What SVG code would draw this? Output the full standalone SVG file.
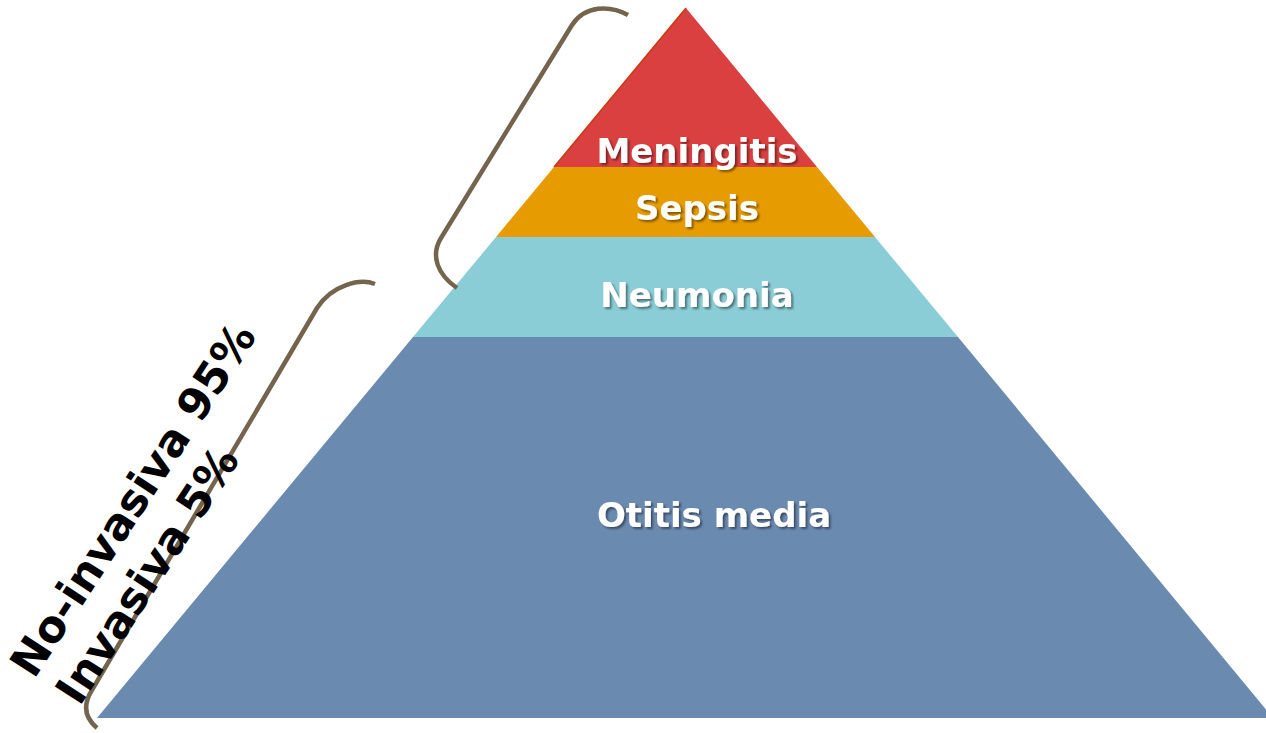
<svg xmlns="http://www.w3.org/2000/svg" width="1266" height="733" viewBox="0 0 1266 733">
<defs>
<filter id="sh" x="-10%" y="-30%" width="130%" height="170%">
<feDropShadow dx="2" dy="2" stdDeviation="1" flood-color="#000" flood-opacity="0.45"/>
</filter>
<style>
.lbl{font-family:"DejaVu Sans",Verdana,sans-serif;font-weight:bold;font-size:34px;fill:#fff;text-anchor:middle;filter:url(#sh)}
.side{font-family:"DejaVu Sans",Verdana,sans-serif;font-weight:bold;font-size:44px;fill:#000}
.br{fill:none;stroke:#74644E;stroke-width:4.5;stroke-linecap:butt}
</style>
</defs>
<rect width="1266" height="733" fill="#fff"/>
<g id="otitis">
<polygon points="413,337 958,337 1273,718 97,718" fill="#6B8AB0"/>
<text class="lbl" x="714" y="527">Otitis media</text>
</g>
<g id="neumonia">
<polygon points="496,237 875,237 958,337 413,337" fill="#8ACDD6"/>
<text class="lbl" x="697" y="307">Neumonia</text>
</g>
<g id="sepsis">
<polygon points="554,167 817,167 875,237 496,237" fill="#E69B00"/>
<text class="lbl" x="697" y="220">Sepsis</text>
</g>
<g id="meningitis">
<polygon points="686,8 817,167 554,167" fill="#DA4040"/>
<line x1="686" y1="8" x2="554" y2="167" stroke="#C83A10" stroke-width="1.5"/>
<text class="lbl" x="697" y="163">Meningitis</text>
</g>
<g id="brackets">
<path class="br" d="M628,15 C610,5 585,5 572,25 L441,238 C430,256 438,275 457,288"/>
<path class="br" d="M375,284 C360,278 332,285 317,308 L92,690 C82,706 85,718 97,728"/>
</g>
<g id="side-labels" transform="translate(34,680) rotate(-57)">
<text class="side" x="0" y="0">No-invasiva 95%</text>
<text class="side" x="2" y="53">Invasiva 5%</text>
</g>
</svg>
